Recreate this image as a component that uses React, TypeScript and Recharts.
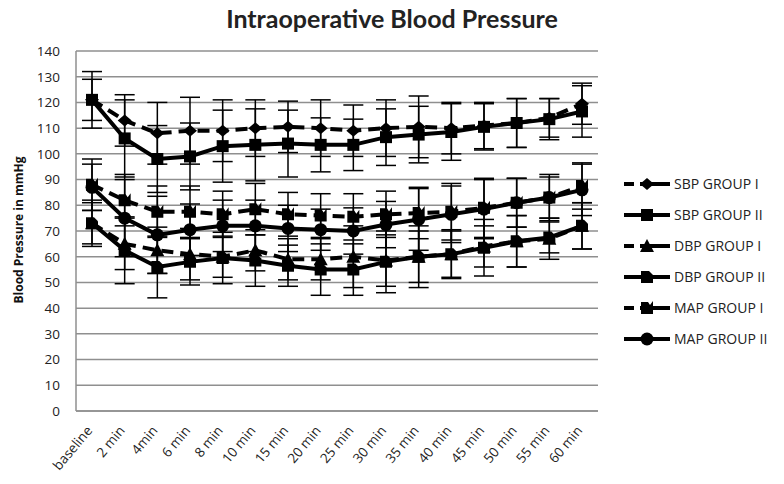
import React from 'react';
import { LineChart, Line, XAxis, YAxis, CartesianGrid, ErrorBar } from 'recharts';

const categories = ['baseline', '2 min', '4min', '6 min', '8 min', '10 min', '15 min', '20 min', '25 min', '30 min', '35 min', '40 min', '45 min', '50 min', '55 min', '60 min'];

const sbp1 = [121, 113, 108, 109, 109, 110, 110.5, 110, 109, 110, 110.5, 110, 111, 112, 114, 119.5];
const sbp2 = [121, 106, 98, 99, 103, 103.5, 104, 103.5, 103.5, 106.5, 107.5, 108.5, 110.5, 112, 113.5, 116.5];
const dbp1 = [73, 65, 62.5, 61, 60, 62.5, 59, 59, 60, 58.5, 60, 61, 64, 66, 67, 72];
const dbp2 = [73, 62.5, 56, 58, 59.5, 58.5, 56.5, 55, 55, 58, 60, 61, 63.5, 66, 67.5, 72];
const map1 = [88, 82, 77.5, 77.5, 76.5, 78.5, 76.5, 76, 75.5, 76.5, 77, 77.5, 79, 81, 83, 87.5];
const map2 = [87, 75, 68.5, 70.5, 72, 72, 71, 70.5, 70, 72.5, 74.5, 76.5, 78.5, 81, 83, 86];

const sbp1Err = [8, 10, 12, 13, 12, 11, 10, 11, 10, 11, 12, 10, 9, 9.5, 7.5, 8];
const sbp2Err = [11, 15, 13, 13, 14, 14, 13, 10.5, 10, 11, 11, 11, 9, 9.5, 8, 10];
const dbp1Err = [8, 10, 9, 10, 8, 8, 8, 8, 12, 10, 10, 9, 8, 10, 8, 9];
const dbp2Err = [9, 13, 12, 9, 10, 10, 8, 10, 10, 12, 12, 9.5, 11, 10, 6, 9];
const map1Err = [10, 10, 10, 10, 9, 10, 8.5, 8.5, 9, 9, 10, 11, 11.5, 9.5, 9, 9];
const map2Err = [9, 15, 15, 10, 10, 10, 9, 8, 9, 9, 12, 11, 11.5, 9.5, 8, 10];

const yTicks = [0, 10, 20, 30, 40, 50, 60, 70, 80, 90, 100, 110, 120, 130, 140];

const seriesNames = ['SBP GROUP I', 'SBP GROUP II', 'DBP GROUP I', 'DBP GROUP II', 'MAP GROUP I', 'MAP GROUP II'];

const data = categories.map((c, i) => ({
  name: c,
  sbp1: sbp1[i], sbp1Err: sbp1Err[i],
  sbp2: sbp2[i], sbp2Err: sbp2Err[i],
  dbp1: dbp1[i], dbp1Err: dbp1Err[i],
  dbp2: dbp2[i], dbp2Err: dbp2Err[i],
  map1: map1[i], map1Err: map1Err[i],
  map2: map2[i], map2Err: map2Err[i],
}));

const FONT = '"Open Sans", "Liberation Sans", sans-serif';

function Marker({ shape, cx, cy }: { shape: string; cx: number; cy: number }) {
  if (cx == null || cy == null) return null;
  if (shape === 'diamond') {
    return <path d={`M${cx},${cy - 6} L${cx + 7},${cy} L${cx},${cy + 6} L${cx - 7},${cy} Z`} fill="#000" />;
  }
  if (shape === 'square') {
    return <rect x={cx - 6} y={cy - 6} width={12} height={12} fill="#000" />;
  }
  if (shape === 'triangle') {
    return <path d={`M${cx},${cy - 7} L${cx + 7},${cy + 6} L${cx - 7},${cy + 6} Z`} fill="#000" />;
  }
  if (shape === 'xsquare') {
    return <path d={`M${cx - 6},${cy - 6} L${cx + 2},${cy - 6} L${cx + 6},${cy - 2} L${cx + 6},${cy + 6} L${cx - 6},${cy + 6} Z`} fill="#000" />;
  }
  if (shape === 'notch') {
    return <path d={`M${cx - 6},${cy - 6} L${cx + 1},${cy - 6} L${cx + 3},${cy - 3} L${cx + 6},${cy - 7} L${cx + 6},${cy + 6} L${cx - 6},${cy + 6} Z`} fill="#000" />;
  }
  return <circle cx={cx} cy={cy} r={6.5} fill="#000" />;
}

const shapes = ['diamond', 'square', 'triangle', 'xsquare', 'notch', 'circle'];
const dashed = [true, false, true, false, true, false];
const keys = ['sbp1', 'sbp2', 'dbp1', 'dbp2', 'map1', 'map2'];

function XTick(props: any) {
  const { x, y, payload } = props;
  return (
    <text x={x + 1} y={y + 12} transform={`rotate(-50, ${x + 1}, ${y + 12})`} textAnchor="end" fontSize={13.5} fontFamily={FONT} fill="#222">
      {payload.value}
    </text>
  );
}

export default function App() {
  return (
    <div style={{ position: 'absolute', left: 0, top: 0, width: 784, height: 484, background: '#fff', fontFamily: FONT }}>
      <div style={{ position: 'absolute', left: 0, top: 3, width: 784, textAlign: 'center', fontSize: 25, fontWeight: 700, color: '#222', fontFamily: 'Lato, sans-serif' }}>
        Intraoperative Blood Pressure
      </div>
      <div style={{ position: 'absolute', left: 18, top: 230, transform: 'translate(-50%, -50%) rotate(-90deg)', whiteSpace: 'nowrap', fontSize: 12, fontWeight: 700, color: '#111' }}>
        Blood Pressure in mmHg
      </div>
      <div style={{ position: 'absolute', left: 0, top: 0 }}>
        <LineChart width={784} height={484} data={data} margin={{ top: 51, right: 186, bottom: 0, left: 0 }}>
          <CartesianGrid vertical={false} stroke="#8f8f8f" strokeWidth={1.5} />
          <XAxis dataKey="name" interval={0} padding={{ left: 16, right: 16 }} tickLine={false} axisLine={{ stroke: '#8f8f8f', strokeWidth: 1.5 }} height={73} tick={<XTick />} />
          <YAxis domain={[0, 140]} ticks={yTicks} width={76} tickLine={false} tickMargin={10} axisLine={{ stroke: '#8f8f8f', strokeWidth: 1.5 }} tick={{ fontSize: 13.5, fill: '#222', fontFamily: FONT }} />
          {keys.map((k, idx) => (
            <Line
              key={k}
              dataKey={k}
              name={seriesNames[idx]}
              stroke="#000"
              strokeWidth={4}
              strokeDasharray={dashed[idx] ? '12 7' : undefined}
              isAnimationActive={false}
              dot={(p: any) => <Marker key={`${k}-${p.index}`} shape={shapes[idx]} cx={p.cx} cy={p.cy} />}
              activeDot={false}
            >
              <ErrorBar dataKey={`${k}Err`} width={10} strokeWidth={1.5} stroke="#000" direction="y" />
            </Line>
          ))}
        </LineChart>
      </div>
      <svg style={{ position: 'absolute', left: 600, top: 160 }} width={184} height={200}>
        {seriesNames.map((n, i) => {
          const cy = 24 + i * 31;
          return (
            <g key={n}>
              <line x1={24} x2={70} y1={cy} y2={cy} stroke="#000" strokeWidth={4} strokeDasharray={dashed[i] ? '10 6 30' : undefined} />
              <Marker shape={shapes[i]} cx={47} cy={cy} />
              <text x={74} y={cy + 5} fontSize={14} fontFamily={FONT} fill="#222">{n}</text>
            </g>
          );
        })}
      </svg>
    </div>
  );
}
